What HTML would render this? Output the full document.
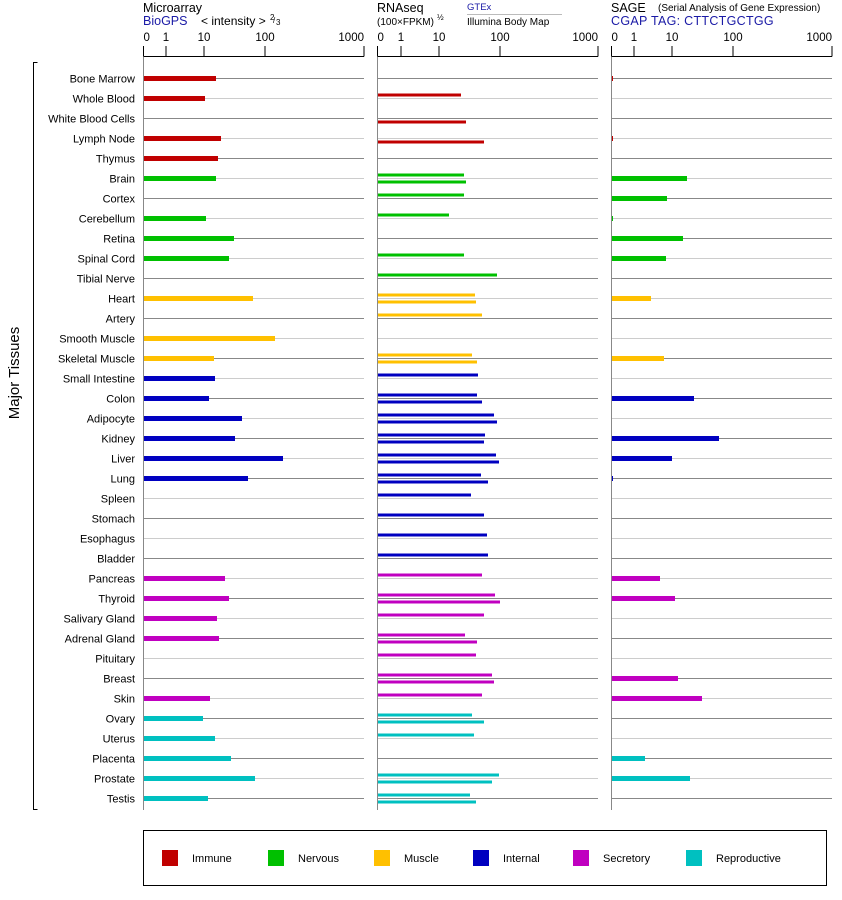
<!DOCTYPE html>
<html><head><meta charset="utf-8">
<style>
body{margin:0;background:#fff;}
svg{display:block;font-family:"Liberation Sans",Arial,sans-serif;}
</style></head>
<body>
<svg id="c" width="842" height="900" viewBox="0 0 842 900" xmlns="http://www.w3.org/2000/svg">
<rect width="842" height="900" fill="#fff"/>
<!-- headers -->
<text x="143" y="12" font-size="12.5">Microarray</text>
<text x="143" y="25" font-size="12.5" fill="#1a1aa6">BioGPS</text>
<text x="201" y="25" font-size="12">&lt; intensity &gt;</text>
<text x="270" y="20" font-size="8">2</text><text x="273" y="23" font-size="8">/</text><text x="276" y="25" font-size="8">3</text>
<text x="377" y="12" font-size="12.5">RNAseq</text>
<text x="377" y="25" font-size="10">(100×FPKM)</text>
<text x="437" y="20" font-size="8">½</text>
<text x="467" y="10" font-size="9.5" fill="#1a1aa6">GTEx</text>
<line x1="467" y1="14.5" x2="562" y2="14.5" stroke="#bbb" stroke-width="1"/>
<text x="467" y="25" font-size="10">Illumina Body Map</text>
<text x="611" y="12" font-size="12.5">SAGE</text>
<text x="658" y="11" font-size="10">(Serial Analysis of Gene Expression)</text>
<text x="611" y="25" font-size="12.5" fill="#1a1aa6" letter-spacing="0.3">CGAP TAG: CTTCTGCTGG</text>
<g id="axes"></g>
<g id="rows"></g>
<!-- bracket -->
<path d="M37.5 62.5 H33.5 V809.5 H37.5" fill="none" stroke="#000" stroke-width="1"/>
<text transform="translate(19,373) rotate(-90)" font-size="15" text-anchor="middle">Major Tissues</text>
<!-- legend -->
<rect x="143.5" y="830.5" width="683" height="55" fill="none" stroke="#000" stroke-width="1"/>
<g font-size="11">
<rect x="162" y="850" width="16" height="16" fill="#c00000"/><text x="192" y="862">Immune</text>
<rect x="268" y="850" width="16" height="16" fill="#00c000"/><text x="298" y="862">Nervous</text>
<rect x="374" y="850" width="16" height="16" fill="#ffc000"/><text x="404" y="862">Muscle</text>
<rect x="473" y="850" width="16" height="16" fill="#0000c0"/><text x="503" y="862">Internal</text>
<rect x="573" y="850" width="16" height="16" fill="#c000c0"/><text x="603" y="862">Secretory</text>
<rect x="686" y="850" width="16" height="16" fill="#00c0c0"/><text x="716" y="862">Reproductive</text>
</g>
</svg>
<script>
var NS="http://www.w3.org/2000/svg";
function el(p,t,a,txt){var e=document.createElementNS(NS,t);for(var k in a)e.setAttribute(k,a[k]);if(txt!==undefined)e.textContent=txt;p.appendChild(e);return e;}
var ax=document.getElementById('axes'),rw=document.getElementById('rows');
var panels=[{x0:143.5,x1:364,t:[143.5,166,204,265,364]},{x0:377.5,x1:598,t:[377.5,401,439,500,598]},{x0:611.5,x1:832,t:[611.5,634,672,733,832]}];
var lab=['0','1','10','100','1000'];
panels.forEach(function(p){
 el(ax,'line',{x1:p.x0,y1:56.5,x2:p.x1,y2:56.5,stroke:'#000','stroke-width':1});
 p.t.forEach(function(x,i){
  el(ax,'line',{x1:x,y1:46,x2:x,y2:56.5,stroke:'#000','stroke-width':1});
  el(ax,'text',{x:x,y:41,'font-size':11.5,'text-anchor':i==4?'end':(i==0?'start':'middle')},lab[i]);
 });
 el(ax,'line',{x1:p.x0,y1:57,x2:p.x0,y2:810,stroke:'#888','stroke-width':1});
});
var C={I:'#c00000',N:'#00c000',M:'#ffc000',T:'#0000c0',S:'#c000c0',R:'#00c0c0'};
// name, cat, micro end, rna top, rna bottom, sage end
var D=[
['Bone Marrow','I',216,0,0,613],
['Whole Blood','I',205,461,0,0],
['White Blood Cells','I',0,0,466,0],
['Lymph Node','I',221,0,484,613],
['Thymus','I',218,0,0,0],
['Brain','N',216,464,466,687],
['Cortex','N',0,464,0,667],
['Cerebellum','N',206,449,0,613],
['Retina','N',234,0,0,683],
['Spinal Cord','N',229,464,0,666],
['Tibial Nerve','N',0,497,0,0],
['Heart','M',253,475,476,651],
['Artery','M',0,482,0,0],
['Smooth Muscle','M',275,0,0,0],
['Skeletal Muscle','M',214,472,477,664],
['Small Intestine','T',215,478,0,0],
['Colon','T',209,477,482,694],
['Adipocyte','T',242,494,497,0],
['Kidney','T',235,485,484,719],
['Liver','T',283,496,499,672],
['Lung','T',248,481,488,613],
['Spleen','T',0,471,0,0],
['Stomach','T',0,484,0,0],
['Esophagus','T',0,487,0,0],
['Bladder','T',0,488,0,0],
['Pancreas','S',225,482,0,660],
['Thyroid','S',229,495,500,675],
['Salivary Gland','S',217,484,0,0],
['Adrenal Gland','S',219,465,477,0],
['Pituitary','S',0,476,0,0],
['Breast','S',0,492,494,678],
['Skin','S',210,482,0,702],
['Ovary','R',203,472,484,0],
['Uterus','R',215,474,0,0],
['Placenta','R',231,0,0,645],
['Prostate','R',255,499,492,690],
['Testis','R',208,470,476,0]];
D.forEach(function(d,i){
 var y=78+20*i+0.5,col=C[d[1]],lc=(i%2==0)?'#888':'#ccc';
 panels.forEach(function(p){el(rw,'line',{x1:p.x0+0.5,y1:y,x2:p.x1,y2:y,stroke:lc,'stroke-width':1});});
 el(rw,'text',{x:135,y:y+4,'font-size':11,'text-anchor':'end'},d[0]);
 if(d[2])el(rw,'rect',{x:144,y:y-2.5,width:d[2]-144,height:5,fill:col});
 if(d[3])el(rw,'rect',{x:378,y:y-5,width:d[3]-378,height:3,fill:col});
 if(d[4])el(rw,'rect',{x:378,y:y+2,width:d[4]-378,height:3,fill:col});
 if(d[5])el(rw,'rect',{x:612,y:y-2.5,width:d[5]-612,height:5,fill:col});
});
</script>
</body></html>
